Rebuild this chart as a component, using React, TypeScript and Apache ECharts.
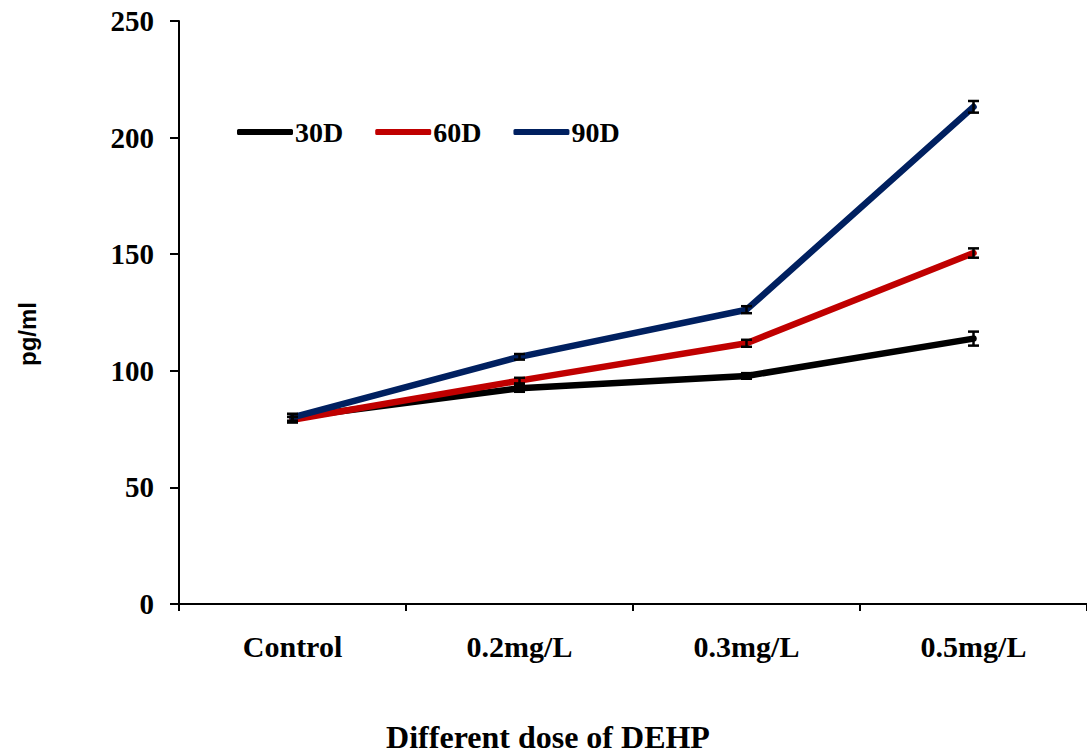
import React, { useEffect, useRef } from "react";
import * as echarts from "echarts";

const categories = ["Control", "0.2mg/L", "0.3mg/L", "0.5mg/L"];
const seriesNames = ["30D", "60D", "90D"];
const values30 = [80, 92.5, 97.8, 113.8];
const values60 = [79, 95.8, 111.8, 150.5];
const values90 = [80, 106, 126.2, 213.2];
const err30 = [1.5, 1.5, 1.2, 3];
const err60 = [1.2, 1.2, 1.5, 2];
const err90 = [1.5, 1.2, 1.5, 2.5];
const colors = ["#000000", "#C00000", "#002060"];
const xTitle = "Different dose of DEHP";
const yTitle = "pg/ml";

const allValues = [values30, values60, values90];
const allErrs = [err30, err60, err90];

export default function App() {
  const ref = useRef<HTMLDivElement>(null);
  useEffect(() => {
    const chart = echarts.init(ref.current!, null, { renderer: "svg", width: 1087, height: 754 });
    const font = "Liberation Serif";
    const lineSeries = seriesNames.map((name, i) => ({
      name,
      type: "line",
      data: allValues[i],
      symbol: "none",
      lineStyle: { color: colors[i], width: 6.5, cap: "round", join: "round" },
      itemStyle: { color: colors[i] },
      z: 3 + i,
    }));
    const errSeries = seriesNames.map((name, i) => ({
      type: "custom",
      name: name + "err",
      data: allValues[i].map((v, j) => [j, v - allErrs[i][j], v + allErrs[i][j]]),
      z: 10,
      renderItem: (params: any, api: any) => {
        const x = api.value(0);
        const lo = api.coord([x, api.value(1)]);
        const hi = api.coord([x, api.value(2)]);
        const hw = 5.5;
        const style = { stroke: "#000", lineWidth: 2.5, fill: "none" };
        return {
          type: "group",
          children: [
            { type: "line", shape: { x1: lo[0], y1: lo[1], x2: hi[0], y2: hi[1] }, style },
            { type: "line", shape: { x1: lo[0] - hw, y1: lo[1], x2: lo[0] + hw, y2: lo[1] }, style },
            { type: "line", shape: { x1: hi[0] - hw, y1: hi[1], x2: hi[0] + hw, y2: hi[1] }, style },
          ],
        };
      },
    }));
    chart.setOption({
      animation: false,
      grid: { left: 179, top: 21, right: 0, bottom: 150, containLabel: false },
      legend: {
        data: seriesNames,
        left: 232,
        top: 113,
        icon: "roundRect",
        itemWidth: 56,
        itemHeight: 6,
        itemGap: 32,
        textStyle: { fontFamily: font, fontWeight: "bold", fontSize: 28, color: "#000", padding: [0, 0, 0, -3] },
      },
      graphic: [
        {
          type: "text",
          x: 548,
          y: 737,
          style: {
            text: xTitle,
            fontFamily: font,
            fontWeight: "bold",
            fontSize: 32,
            fill: "#000",
            textAlign: "center",
            textVerticalAlign: "middle",
          },
        },
        {
          type: "text",
          x: 27,
          y: 334,
          rotation: Math.PI / 2,
          style: {
            text: yTitle,
            fontFamily: "Liberation Sans",
            fontWeight: "bold",
            fontSize: 24,
            fill: "#000",
            textAlign: "center",
            textVerticalAlign: "middle",
          },
        },
      ],
      xAxis: {
        type: "category",
        data: categories,
        boundaryGap: true,
        axisLine: { lineStyle: { color: "#000", width: 2 } },
        axisTick: { show: true, length: 7, alignWithLabel: false, lineStyle: { color: "#000", width: 2 } },
        axisLabel: { fontFamily: font, fontWeight: "bold", fontSize: 30, color: "#000", margin: 27 },
        splitLine: { show: false },
      },
      yAxis: {
        type: "value",
        min: 0,
        max: 250,
        interval: 50,
        axisLine: { show: true, lineStyle: { color: "#000", width: 2 } },
        axisTick: { show: true, length: 9, lineStyle: { color: "#000", width: 2 } },
        axisLabel: { fontFamily: font, fontWeight: "bold", fontSize: 29, color: "#000", margin: 25 },
        splitLine: { show: false },
      },
      series: [...lineSeries, ...errSeries],
    });
    return () => chart.dispose();
  }, []);
  return (
    <div
      ref={ref}
      style={{ position: "absolute", left: 0, top: 0, width: 1087, height: 754, background: "#fff" }}
    />
  );
}
